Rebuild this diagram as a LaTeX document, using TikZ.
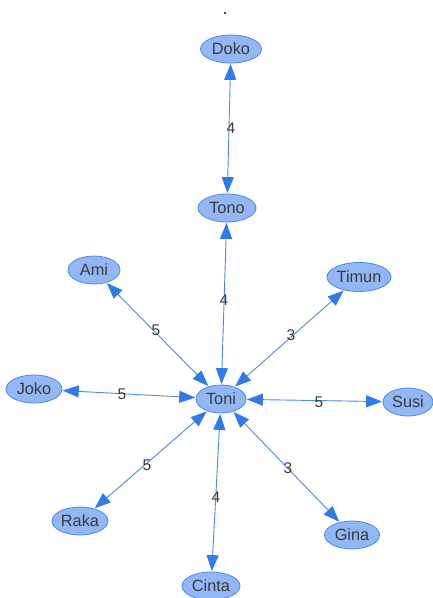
\documentclass[tikz,border=0pt]{standalone}
\usepackage{fontspec}
\setmainfont{Liberation Sans}
\usetikzlibrary{arrows.meta,shapes.geometric}
\definecolor{nodefill}{HTML}{93B7F5}
\definecolor{nodeline}{HTML}{4A86E8}
\definecolor{edgecol}{HTML}{4A88EA}
\definecolor{tipcol}{HTML}{2F7BEA}
\definecolor{txt}{HTML}{3A3A3A}
\begin{document}
\begin{tikzpicture}[x=1pt,y=-1pt,
  person/.style={ellipse,draw=nodeline,fill=nodefill,line width=0.8pt,inner sep=0pt,text=txt,font=\fontsize{16.3}{16.3}\selectfont},
  link/.style={draw=edgecol,line width=0.9pt,{Triangle[length=16pt,width=12pt,color=tipcol,fill=tipcol]}-{Triangle[length=16pt,width=12pt,color=tipcol,fill=tipcol]},shorten <=0.5pt,shorten >=0.5pt},
  wt/.style={text=txt,font=\fontsize{15.5}{15.5}\selectfont,inner sep=1pt}]
\useasboundingbox (0,0) rectangle (432,598);
\fill (225,13) circle (1.2);
\node[person,minimum width=61pt,minimum height=28pt] (doko) at (231,49) {Doko};
\node[person,minimum width=58pt,minimum height=28pt] (tono) at (227,208) {Tono};
\node[person,minimum width=52pt,minimum height=28pt] (ami) at (94,270) {Ami};
\node[person,minimum width=64pt,minimum height=29pt] (timun) at (359,277) {Timun};
\node[person,minimum width=56pt,minimum height=28pt] (joko) at (34,389) {Joko};
\node[person,minimum width=50pt,minimum height=28pt] (toni) at (221,399) {Toni};
\node[person,minimum width=50pt,minimum height=28pt] (susi) at (408,402) {Susi};
\node[person,minimum width=56pt,minimum height=28pt] (raka) at (80,521) {Raka};
\node[person,minimum width=55pt,minimum height=28pt] (gina) at (352,535) {Gina};
\node[person,minimum width=58pt,minimum height=28pt] (cinta) at (211,586) {Cinta};
\draw[link] (doko) -- (tono);
\draw[link] (tono) -- (toni);
\draw[link] (ami) -- (toni);
\draw[link] (timun) -- (toni);
\draw[link] (joko) -- (toni);
\draw[link] (susi) -- (toni);
\draw[link] (raka) -- (toni);
\draw[link] (cinta) -- (toni);
\draw[link] (gina) -- (toni);
\node[wt] (w1) at (231,128) {4};
\node[wt] (w2) at (224,300) {4};
\node[wt] (w3) at (156,330) {5};
\node[wt] (w4) at (291,335) {3};
\node[wt] (w5) at (122,394) {5};
\node[wt] (w6) at (319,402) {5};
\node[wt] (w7) at (147,465) {5};
\node[wt] (w8) at (216,497) {4};
\node[wt] (w9) at (288,468) {3};
\end{tikzpicture}
\end{document}
